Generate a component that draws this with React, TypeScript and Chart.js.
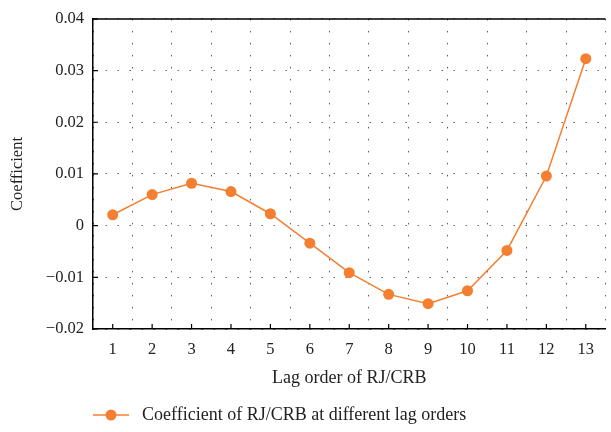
import React, { useEffect, useRef } from "react";
import { Chart, registerables } from "chart.js";

Chart.register(...registerables);

const categories = ["1", "2", "3", "4", "5", "6", "7", "8", "9", "10", "11", "12", "13"];
const coefficients = [0.0021, 0.0060, 0.0082, 0.0066, 0.0023, -0.0034, -0.0091, -0.0133, -0.0151, -0.0126, -0.0048, 0.0096, 0.0323];
const seriesLabel = "Coefficient of RJ/CRB at different lag orders";
const xTitle = "Lag order of RJ/CRB";
const yTitle = "Coefficient";
const yMin = -0.02;
const yMax = 0.04;
const yStep = 0.01;

const FONT = "'Liberation Serif', 'DejaVu Serif', serif";
const ORANGE = "#f47f30";
const TEXT = "#222";

const framePlugin = {
  id: "frame",
  afterDraw(chart: any) {
    const { ctx, chartArea } = chart;
    const xs = chart.scales.x;
    const ys = chart.scales.y;
    ctx.save();
    ctx.strokeStyle = "#000";
    ctx.lineWidth = 1.5;
    ctx.beginPath();
    ctx.moveTo(chartArea.left, chartArea.top);
    ctx.lineTo(chartArea.right, chartArea.top);
    ctx.stroke();
    ctx.lineWidth = 1.2;
    ctx.beginPath();
    xs.ticks.forEach((_t: any, i: number) => {
      const x = xs.getPixelForTick(i);
      ctx.moveTo(x, chartArea.bottom);
      ctx.lineTo(x, chartArea.bottom - 5);
    });
    ys.ticks.forEach((_t: any, i: number) => {
      const y = ys.getPixelForTick(i);
      ctx.moveTo(chartArea.left, y);
      ctx.lineTo(chartArea.left + 5, y);
    });
    ctx.stroke();
    // legend
    const ly = 415;
    const lx = 93;
    ctx.strokeStyle = ORANGE;
    ctx.lineWidth = 1.5;
    ctx.beginPath();
    ctx.moveTo(lx, ly);
    ctx.lineTo(lx + 36, ly);
    ctx.stroke();
    ctx.fillStyle = ORANGE;
    ctx.beginPath();
    ctx.arc(lx + 18, ly, 5.5, 0, Math.PI * 2);
    ctx.fill();
    ctx.fillStyle = TEXT;
    ctx.font = `18px ${FONT}`;
    ctx.textBaseline = "middle";
    ctx.textAlign = "left";
    ctx.fillText(chart.data.datasets[0].label, lx + 49, ly);
    ctx.restore();
  },
};

function fmt(v: number) {
  if (Math.abs(v) < 1e-9) return "0";
  const s = Math.abs(v).toFixed(2);
  return v < 0 ? "\u2212" + s : s;
}

export default function App() {
  const ref = useRef<HTMLCanvasElement | null>(null);
  useEffect(() => {
    if (!ref.current) return;
    const chart = new Chart(ref.current, {
      type: "line",
      data: {
        labels: categories,
        datasets: [
          {
            label: seriesLabel,
            data: coefficients,
            borderColor: ORANGE,
            backgroundColor: ORANGE,
            borderWidth: 1.5,
            pointRadius: 5.5,
            pointHoverRadius: 5.5,
            pointBorderWidth: 0,
            tension: 0,
          },
        ],
      },
      options: {
        animation: false,
        responsive: false,
        layout: { padding: { top: 15, right: 0, bottom: 43, left: 0 } },
        plugins: { legend: { display: false }, tooltip: { enabled: false } },
        scales: {
          x: {
            offset: true,
            grid: { offset: true, drawTicks: false, color: "#555", lineWidth: 1 } as any,
            border: { display: true, color: "#000", width: 1.5, dash: [1.5, 10.5] } as any,
            ticks: { color: TEXT, font: { family: FONT, size: 16.5 }, padding: 11 },
            title: {
              display: true,
              text: xTitle,
              color: TEXT,
              font: { family: FONT, size: 18 },
              padding: { top: 0, bottom: 0 },
            },
            afterFit(scale: any) {
              scale.height = 60;
            },
          },
          y: {
            min: yMin,
            max: yMax,
            grid: { drawTicks: false, color: "#666", lineWidth: 1 },
            border: { display: true, color: "#000", width: 1.5, dash: [1.5, 10.5] } as any,
            ticks: {
              stepSize: yStep,
              color: TEXT,
              font: { family: FONT, size: 16.5 },
              padding: 9,
              callback: (v: any) => fmt(Number(v)),
            },
            title: {
              display: true,
              text: yTitle,
              color: TEXT,
              font: { family: FONT, size: 16.5 },
              padding: { top: 8, bottom: 0 },
            },
            afterFit(scale: any) {
              scale.width = 93;
            },
          },
        },
      },
      plugins: [framePlugin],
    });
    return () => chart.destroy();
  }, []);
  return (
    <div style={{ position: "fixed", left: 0, top: 0, width: 611, height: 432, background: "#fff" }}>
      <canvas ref={ref} width={611} height={432} style={{ width: 611, height: 432 }} />
    </div>
  );
}
